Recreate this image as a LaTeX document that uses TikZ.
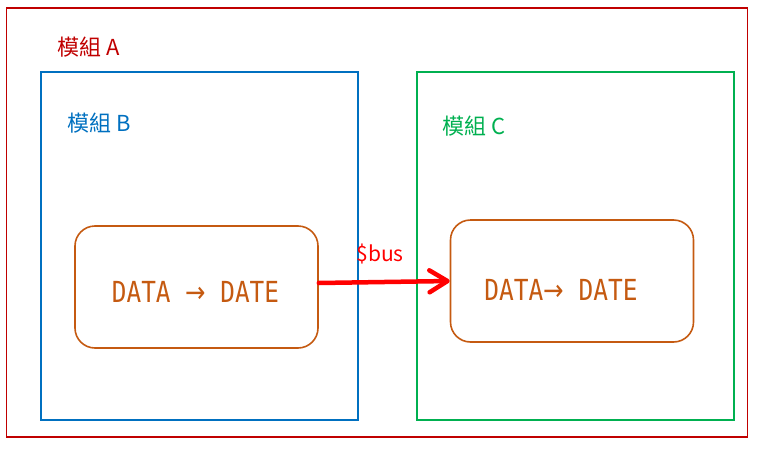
\documentclass[tikz,border=0pt]{standalone}
\usepackage{fontspec}
\usepackage{graphicx}
\usetikzlibrary{arrows.meta}
\newfontfamily\cjkf{Noto Sans CJK TC}
\newfontfamily\monof{DejaVu Sans Mono}
\newfontfamily\arrf{DejaVu Sans}
\definecolor{modA}{HTML}{C00000}
\definecolor{modB}{HTML}{0070C0}
\definecolor{modC}{HTML}{00B050}
\definecolor{dataC}{HTML}{C55A11}
\definecolor{busC}{HTML}{FF0000}
\newcommand{\myarr}{{\arrf →}}
\tikzset{
  modbox/.style={draw, line width=2pt, minimum width=317pt, minimum height=348pt, inner sep=0pt},
  databox/.style={draw=dataC, line width=1.6pt, rounded corners=20pt, minimum width=243pt, minimum height=122pt, inner sep=0pt},
  modlabel/.style={font=\cjkf\fontsize{22}{24}\selectfont, anchor=base west, inner sep=0pt},
  datatext/.style={text=dataC, font=\monof\fontsize{29}{30}\selectfont, inner sep=0pt},
}
\begin{document}
\begin{tikzpicture}[x=1pt,y=-1pt]
\useasboundingbox (0,0) rectangle (758,450);
\node[draw=modA, line width=1.5pt, minimum width=741pt, minimum height=429pt, inner sep=0pt] (A) at (377,222.5) {};
\node[modlabel, text=modA] (la) at (57,55.5) {模組 A};
\node[modbox, draw=modB] (B) at (199.5,246) {};
\node[modlabel, text=modB] (lb) at (67,131) {模組 B};
\node[modbox, draw=modC] (C) at (575,246) {};
\node[modlabel, text=modC] (lc) at (442,134.5) {模組 C};
\node[databox] (L) at (196.5,287) {};
\node[datatext] (lt) at (195.5,292) {\scalebox{0.84}[1]{DATA \myarr{} DATE}};
\node[databox] (R) at (572,281) {};
\node[datatext] (rt) at (561,290) {\scalebox{0.845}[1]{DATA\myarr{} DATE}};
\node[text=busC, font=\cjkf\fontsize{21}{24}\selectfont, inner sep=0pt] (bus) at (380,254) {\$bus};
\draw[busC, line width=4.5pt, line cap=round, -{Straight Barb[length=18pt, width=22pt, line cap=round, line join=round]}] ([yshift=4pt]L.east) -- (R.west);
\end{tikzpicture}
\end{document}
